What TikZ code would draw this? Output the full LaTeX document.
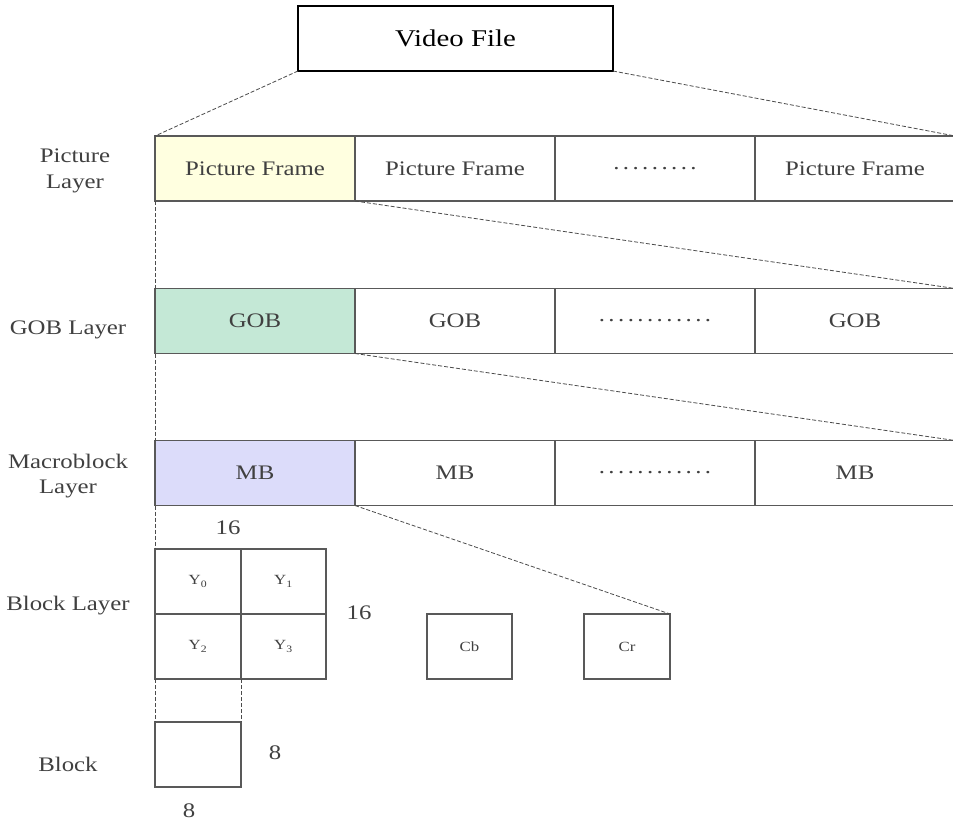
\documentclass[tikz,border=0pt]{standalone}
\usepackage{fontspec}
\setmainfont{Liberation Serif}[FakeStretch=1.2]
\usetikzlibrary{positioning}

\definecolor{frameyellow}{RGB}{255,255,224}
\definecolor{gobgreen}{RGB}{196,232,214}
\definecolor{mbblue}{RGB}{220,220,250}
\def\px{0.75pt}

\begin{document}
\begin{tikzpicture}[
  x=0.75pt, y=-0.75pt,
  every node/.style={font=\fontsize{15.5}{19}\selectfont, text=black!75},
  cell/.style={draw=black!65, line width=0.8pt, minimum width=200*\px, minimum height=65*\px, inner sep=0pt, outer sep=0pt},
  blk/.style={draw=black!65, line width=0.8pt, minimum width=86*\px, minimum height=65*\px, inner sep=0pt, outer sep=0pt, font=\fontsize{10.5}{12}\selectfont},
  layer/.style={align=center},
  link/.style={draw=black!70, line width=0.6pt, dash pattern=on 3pt off 1.5pt}
]
\clip (0,0) rectangle (953,825);
\fill[white] (0,0) rectangle (953,825);

\node[draw=black, line width=1pt, minimum width=315*\px, minimum height=65*\px, inner sep=0pt, outer sep=0pt, text=black, font=\fontsize{18}{20}\selectfont] (video) at (455.5,38.5) {Video File};

% picture layer
\node[layer] (lpic) at (75,171) {Picture\\Layer};
\node[cell, fill=frameyellow] (pf1) at (255,168.5) {Picture Frame};
\node[cell] (pf2) at (455,168.5) {Picture Frame};
\node[cell] (pf3) at (655,168.5) {.\,.\,.\,.\,.\,.\,.\,.\,.};
\node[cell] (pf4) at (855,168.5) {Picture Frame};

% GOB layer
\node[layer] (lgob) at (68,330) {GOB Layer};
\node[cell, fill=gobgreen] (gob1) at (255,321) {GOB};
\node[cell] (gob2) at (455,321) {GOB};
\node[cell] (gob3) at (655,321) {.\,.\,.\,.\,.\,.\,.\,.\,.\,.\,.\,.};
\node[cell] (gob4) at (855,321) {GOB};

% macroblock layer
\node[layer] (lmb) at (68,476) {Macroblock\\Layer};
\node[cell, fill=mbblue] (mb1) at (255,473) {MB};
\node[cell] (mb2) at (455,473) {MB};
\node[cell] (mb3) at (655,473) {.\,.\,.\,.\,.\,.\,.\,.\,.\,.\,.\,.};
\node[cell] (mb4) at (855,473) {MB};

% block layer
\node[layer] (lblk) at (68,606) {Block Layer};
\node[blk] (y0) at (198,581.5) {Y\textsubscript{0}};
\node[blk, minimum width=85*\px] (y1) at (283.5,581.5) {Y\textsubscript{1}};
\node[blk] (y2) at (198,646.5) {Y\textsubscript{2}};
\node[blk, minimum width=85*\px] (y3) at (283.5,646.5) {Y\textsubscript{3}};
\node[blk, minimum width=85*\px] (cb) at (469.5,646.5) {Cb};
\node[blk] (cr) at (627,646.5) {Cr};
\node (w16) at (228,528) {16};
\node (h16) at (359,613) {16};

% single block
\node[layer] (lone) at (68,764) {Block};
\node[blk] (one) at (198,754.5) {};
\node (h8) at (275,753) {8};
\node (w8) at (189,811) {8};

\draw[link] (video.south west) -- (pf1.north west);
\draw[link] (video.south east) -- (pf4.north east);
\draw[link] (pf1.south west) -- (gob1.north west);
\draw[link] (pf1.south east) -- (gob4.north east);
\draw[link] (gob1.south west) -- (mb1.north west);
\draw[link] (gob1.south east) -- (mb4.north east);
\draw[link] (mb1.south west) -- (y0.north west);
\draw[link] (mb1.south east) -- (cr.north east);
\draw[link] (y2.south west) -- (one.north west);
\draw[link] (y2.south east) -- (one.north east);
\end{tikzpicture}
\end{document}
